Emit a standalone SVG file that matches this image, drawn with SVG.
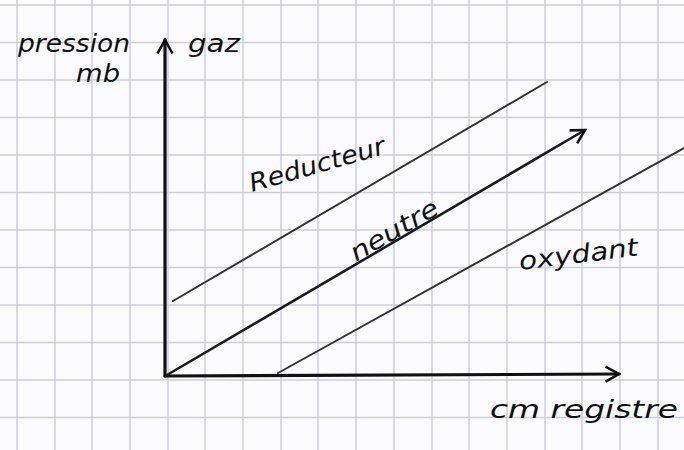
<svg xmlns="http://www.w3.org/2000/svg" width="684" height="450" viewBox="0 0 684 450">
<defs>
<style>
.grid line{stroke:#cdced8;stroke-width:1.5}
.axis{stroke:#111;stroke-width:3.2;fill:none;stroke-linecap:round}
.zone{stroke:#333;stroke-width:2;fill:none;stroke-linecap:round}
.mid{stroke:#1a1a1a;stroke-width:2.6;fill:none;stroke-linecap:round}
.lbl{font-family:"DejaVu Sans","Liberation Sans",sans-serif;font-style:italic;fill:#111;font-size:25px}
</style>
<marker id="ah2" viewBox="0 0 12 12" refX="10" refY="6" markerWidth="18" markerHeight="18" orient="auto" markerUnits="userSpaceOnUse">
<path d="M1,1 L10,6 L1,11" fill="none" stroke="#111" stroke-width="1.7"/>
</marker>
</defs>
<rect width="684" height="450" fill="#fbfbfd"/>
<g class="grid">
<line x1="17" y1="0" x2="17" y2="450"/>
<line x1="55" y1="0" x2="55" y2="450"/>
<line x1="92" y1="0" x2="92" y2="450"/>
<line x1="130" y1="0" x2="130" y2="450"/>
<line x1="168" y1="0" x2="168" y2="450"/>
<line x1="205" y1="0" x2="205" y2="450"/>
<line x1="243" y1="0" x2="243" y2="450"/>
<line x1="281" y1="0" x2="281" y2="450"/>
<line x1="318" y1="0" x2="318" y2="450"/>
<line x1="356" y1="0" x2="356" y2="450"/>
<line x1="394" y1="0" x2="394" y2="450"/>
<line x1="432" y1="0" x2="432" y2="450"/>
<line x1="469" y1="0" x2="469" y2="450"/>
<line x1="507" y1="0" x2="507" y2="450"/>
<line x1="545" y1="0" x2="545" y2="450"/>
<line x1="582" y1="0" x2="582" y2="450"/>
<line x1="620" y1="0" x2="620" y2="450"/>
<line x1="658" y1="0" x2="658" y2="450"/>
<line x1="0" y1="5" x2="684" y2="5"/>
<line x1="0" y1="42.5" x2="684" y2="42.5"/>
<line x1="0" y1="80" x2="684" y2="80"/>
<line x1="0" y1="117.5" x2="684" y2="117.5"/>
<line x1="0" y1="155" x2="684" y2="155"/>
<line x1="0" y1="192.5" x2="684" y2="192.5"/>
<line x1="0" y1="230" x2="684" y2="230"/>
<line x1="0" y1="267.5" x2="684" y2="267.5"/>
<line x1="0" y1="305" x2="684" y2="305"/>
<line x1="0" y1="342.5" x2="684" y2="342.5"/>
<line x1="0" y1="380" x2="684" y2="380"/>
<line x1="0" y1="417.5" x2="684" y2="417.5"/>
</g>
<g id="connectors">
<line class="axis" x1="165" y1="376" x2="165" y2="40" marker-end="url(#ah2)"/>
<line class="axis" x1="165" y1="376" x2="619" y2="374" marker-end="url(#ah2)"/>
<line class="zone" x1="173" y1="301" x2="547" y2="82"/>
<line class="mid" x1="167" y1="375" x2="585" y2="130" marker-end="url(#ah2)"/>
<line class="zone" x1="278" y1="373" x2="684" y2="148"/>
</g>
<g id="label-pression"><text class="lbl" x="18" y="52" textLength="112" lengthAdjust="spacingAndGlyphs">pression</text></g>
<g id="label-mb"><text class="lbl" x="76" y="82" textLength="44" lengthAdjust="spacingAndGlyphs">mb</text></g>
<g id="label-gaz"><text class="lbl" x="188" y="52" textLength="52" lengthAdjust="spacingAndGlyphs">gaz</text></g>
<g id="label-reducteur"><text class="lbl" x="252" y="192" transform="rotate(-16 252 192)" textLength="140" lengthAdjust="spacingAndGlyphs">Reducteur</text></g>
<g id="label-neutre"><text class="lbl" x="356" y="262" transform="rotate(-30 356 262)" textLength="98" lengthAdjust="spacingAndGlyphs">neutre</text></g>
<g id="label-oxydant"><text class="lbl" x="520" y="270" transform="rotate(-7 520 270)" textLength="120" lengthAdjust="spacingAndGlyphs">oxydant</text></g>
<g id="label-registre"><text class="lbl" x="490" y="418" textLength="188" lengthAdjust="spacingAndGlyphs">cm registre</text></g>
</svg>
